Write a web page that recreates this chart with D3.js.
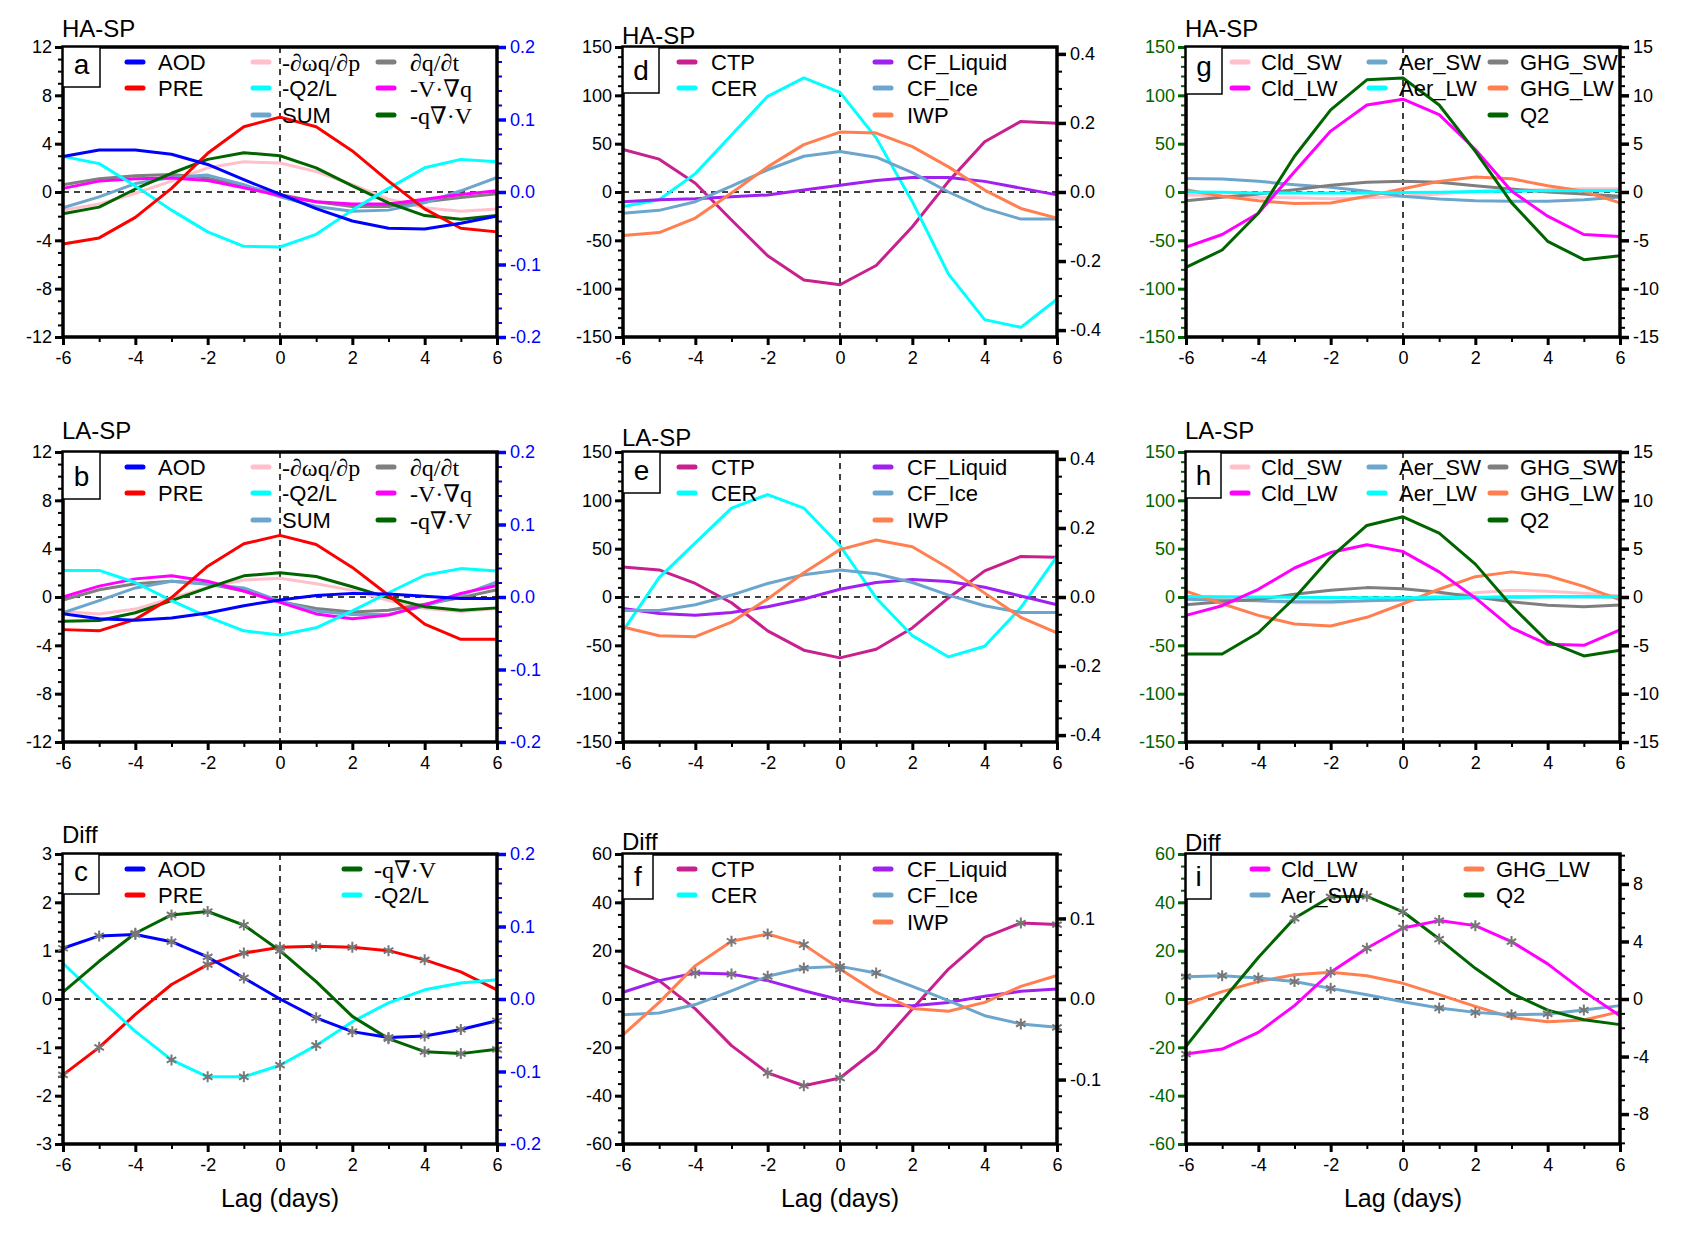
<!DOCTYPE html>
<html>
<head>
<meta charset="utf-8">
<script src="https://cdn.jsdelivr.net/npm/d3@7"></script>
<style>
  body { margin: 0; background: #fff; }
</style>
</head>
<body>
<div id="chart"></div>
<script>
// lag axis
const lags = [-6, -5, -4, -3, -2, -1, 0, 1, 2, 3, 4, 5, 6];
const lagTicks = [-6, -4, -2, 0, 2, 4, 6];

// tick labels
const budgetTicks = [-12, -8, -4, 0, 4, 8, 12];
const aodTicks = [-0.2, -0.1, 0, 0.1, 0.2];
const budgetDiffTicks = [-3, -2, -1, 0, 1, 2, 3];
const cloudTicks = [-150, -100, -50, 0, 50, 100, 150];
const cloudRTicks = [-0.4, -0.2, 0, 0.2, 0.4];
const cloudDiffTicks = [-60, -40, -20, 0, 20, 40, 60];
const cloudDiffRTicks = [-0.1, 0, 0.1];
const radRTicks = [-15, -10, -5, 0, 5, 10, 15];
const radDiffRTicks = [-8, -4, 0, 4, 8];

// a: HA-SP moisture budget (AOD on right axis)
const aAOD = [0.049, 0.058, 0.058, 0.052, 0.038, 0.017, -0.003, -0.023, -0.040, -0.050, -0.051, -0.043, -0.033];
const aPRE = [-4.3, -3.8, -2.1, 0.3, 3.2, 5.4, 6.2, 5.4, 3.4, 0.9, -1.4, -3.0, -3.3];
const aOmega = [-1.5, -1.0, -0.1, 0.9, 2.0, 2.5, 2.4, 1.7, 0.6, -0.6, -1.3, -1.6, -1.4];
const aQ2L = [2.95, 2.35, 0.5, -1.5, -3.3, -4.5, -4.55, -3.5, -1.5, 0.3, 2.0, 2.7, 2.5];
const aSUM = [-1.3, -0.4, 0.7, 1.2, 1.4, 0.6, -0.4, -1.2, -1.6, -1.5, -0.9, 0.1, 1.2];
const aDqdt = [0.6, 1.1, 1.35, 1.45, 1.15, 0.5, -0.2, -0.8, -1.2, -1.2, -0.8, -0.45, -0.15];
const aAdv = [0.3, 0.9, 1.1, 1.15, 0.95, 0.35, -0.3, -0.8, -1.0, -1.0, -0.6, -0.2, 0.1];
const aConv = [-1.8, -1.25, 0.25, 1.55, 2.7, 3.25, 3.0, 2.0, 0.5, -0.9, -1.95, -2.25, -1.95];

// b: LA-SP moisture budget
const bAOD = [-0.023, -0.030, -0.032, -0.029, -0.022, -0.012, -0.004, 0.002, 0.005, 0.004, 0.001, -0.002, -0.002];
const bPRE = [-2.7, -2.8, -1.85, -0.05, 2.55, 4.4, 5.1, 4.35, 2.45, 0.15, -2.25, -3.5, -3.5];
const bOmega = [-1.2, -1.4, -1.0, -0.1, 0.8, 1.4, 1.55, 1.1, 0.55, -0.3, -0.95, -1.2, -0.95];
const bQ2L = [2.2, 2.2, 1.2, -0.3, -1.65, -2.8, -3.15, -2.55, -1.15, 0.35, 1.8, 2.35, 2.15];
const bSUM = [-1.3, -0.3, 0.75, 1.3, 1.05, 0.75, -0.35, -1.15, -1.45, -1.45, -0.75, 0.15, 1.25];
const bDqdt = [-0.25, 0.6, 1.1, 1.3, 1.1, 0.5, -0.4, -0.95, -1.25, -1.1, -0.6, -0.05, 0.6];
const bAdv = [0, 0.9, 1.5, 1.75, 1.3, 0.5, -0.45, -1.4, -1.8, -1.5, -0.65, 0.3, 0.95];
const bConv = [-2.0, -1.95, -1.3, -0.3, 0.75, 1.75, 2.0, 1.7, 0.85, -0.05, -0.8, -1.1, -0.9];

// c: difference, stars = significant lags
const cAOD = [0.070, 0.087, 0.089, 0.079, 0.058, 0.029, 0, -0.026, -0.045, -0.053, -0.051, -0.042, -0.030];
const cPRE = [-1.57, -1.0, -0.32, 0.3, 0.71, 0.95, 1.07, 1.09, 1.07, 1.0, 0.81, 0.56, 0.19];
const cConv = [0.14, 0.78, 1.36, 1.74, 1.81, 1.53, 1.0, 0.36, -0.36, -0.82, -1.09, -1.13, -1.04];
const cQ2L = [0.74, 0.02, -0.67, -1.26, -1.61, -1.61, -1.37, -0.96, -0.47, -0.08, 0.19, 0.33, 0.40];
const cAODsig = [-6, -5, -4, -3, -2, -1, 1, 2, 3, 4, 5, 6];
const cPREsig = [-6, -5, -2, -1, 0, 1, 2, 3, 4];
const cConvSig = [-4, -3, -2, -1, 0, 3, 4, 5, 6];
const cQ2Lsig = [-3, -2, -1, 0, 1];

// d: HA-SP cloud properties
const dCTP = [44, 34, 9, -29, -66, -91, -96, -76, -36, 11, 52, 73, 71];
const dCER = [-15, -8, 19, 59, 99, 118, 103, 56, -10, -85, -132, -140, -111];
const dLiq = [-10, -8, -7, -5, -3, 2, 7, 12, 15, 15, 11, 4, -3];
const dIce = [-22, -19, -10, 6, 23, 37, 42, 36, 20, 0, -17, -28, -28];
const dIWP = [-45, -42, -27, -1, 26, 49, 62, 61, 47, 26, 2, -17, -27];

// e: LA-SP cloud properties
const eCTP = [31, 28, 14, -6, -35, -55, -63, -54, -32, -1, 27, 42, 41];
const eCER = [-35, 20, 56, 92, 106, 92, 53, -1, -40, -62, -51, -11, 42];
const eLiq = [-12, -17, -19, -16, -10, -2, 8, 15, 18, 16, 10, 1, -8];
const eIce = [-14, -14, -8, 2, 14, 23, 28, 24, 15, 2, -9, -16, -16];
const eIWP = [-31, -40, -41, -26, -2, 25, 49, 59, 52, 30, 4, -21, -37];

// f: difference
const fCTP = [14, 7.6, -4.1, -19.3, -30.6, -35.9, -32.7, -21, -4.1, 12.4, 25.5, 31.4, 30.8];
const fLiq = [2.8, 7.6, 10.8, 10.3, 7.6, 3.4, -0.3, -2.5, -2.8, -1.4, 1.1, 3.2, 4.1];
const fIce = [-6.5, -5.8, -2.3, 3.4, 9.4, 12.8, 13.5, 10.8, 5.2, -0.7, -6.9, -10.3, -11.7];
const fIWP = [-14.8, -1.4, 13.8, 23.9, 26.9, 22.5, 12.4, 2.8, -3.9, -5.1, -1.4, 5.2, 9.7];
const fCTPsig = [-2, -1, 0, 5, 6];
const fLiqSig = [-4, -3];
const fIceSig = [-2, -1, 0, 1, 5, 6];
const fIWPsig = [-3, -2, -1, 0];

// g: HA-SP radiative heating (Q2 on left axis, the rest on right axis)
const gCldSW = [-0.3, -0.4, -0.55, -0.6, -0.7, -0.6, -0.45, -0.2, 0.07, 0.17, 0.24, 0.34, 0.34];
const gCldLW = [-5.7, -4.4, -2.2, 2.1, 6.3, 9.0, 9.6, 8.0, 4.4, 0.1, -2.5, -4.4, -4.6];
const gAerSW = [1.4, 1.34, 1.1, 0.76, 0.48, 0.07, -0.45, -0.72, -0.9, -0.96, -0.96, -0.8, -0.52];
const gAerLW = [0, -0.02, -0.1, -0.1, -0.1, -0.1, -0.05, -0.03, 0.05, 0.08, 0.12, 0.14, 0.14];
const gGhgSW = [-0.9, -0.55, -0.2, 0.24, 0.69, 1.0, 1.1, 1.0, 0.65, 0.31, 0, -0.2, -0.45];
const gGhgLW = [0.24, -0.45, -0.9, -1.2, -1.13, -0.45, 0.34, 1.1, 1.55, 1.37, 0.65, 0.07, -1.13];
const gQ2 = [-78, -60, -22, 37, 85, 116, 118, 90, 42, -11, -51, -70, -66];

// h: LA-SP radiative heating
const hCldSW = [-0.07, -0.24, -0.4, -0.6, -0.6, -0.4, -0.24, 0.1, 0.45, 0.7, 0.6, 0.4, 0.1];
const hCldLW = [-1.9, -0.9, 0.8, 3.0, 4.6, 5.4, 4.7, 2.6, -0.1, -3.2, -4.9, -5.0, -3.4];
const hAerSW = [-0.24, -0.34, -0.4, -0.48, -0.5, -0.4, -0.3, -0.17, -0.07, 0, 0.03, 0.03, 0];
const hAerLW = [0.05, 0.02, 0, -0.03, -0.05, -0.07, -0.08, -0.05, -0.02, 0, 0.02, 0.03, 0.02];
const hGhgSW = [-0.8, -0.5, -0.24, 0.28, 0.7, 0.97, 0.86, 0.5, 0, -0.5, -0.86, -1.0, -0.83];
const hGhgLW = [0.6, -0.7, -1.9, -2.8, -3.0, -2.1, -0.7, 0.8, 2.1, 2.6, 2.2, 1.1, -0.3];
const hQ2 = [-59, -59, -37, -1, 41, 74, 83, 66, 34, -9, -46, -61, -55];

// i: difference
const iCldLW = [-3.83, -3.48, -2.32, -0.46, 1.86, 3.53, 4.94, 5.45, 5.1, 3.99, 2.44, 0.53, -1.16];
const iAerSW = [1.55, 1.62, 1.46, 1.21, 0.74, 0.3, -0.19, -0.63, -0.93, -1.09, -1.04, -0.77, -0.46];
const iGhgLW = [-0.35, 0.51, 1.21, 1.69, 1.86, 1.62, 1.09, 0.3, -0.51, -1.28, -1.58, -1.46, -0.88];
const iQ2 = [-19.6, -0.7, 17.2, 33.4, 42.3, 42.5, 36.1, 24.8, 12.7, 2.3, -4.6, -8.6, -10.6];
const iCldLWsig = [-6, -2, -1, 0, 1, 2, 3];
const iAerSWsig = [-6, -5, -4, -3, -2, 1, 2, 3, 4, 5];
const iQ2sig = [-3, -2, -1, 0, 1];

// colours
const C = {
    blue: "#0000ff", red: "#ff0000", pink: "#ffc0cb", cyan: "#00ffff",
    steel: "#6ca6cd", gray: "#7f7f7f", magenta: "#ff00ff", dgreen: "#006400",
    ctp: "#c8208e", purple: "#a020f0", coral: "#ff7f50"
};

const SANS = "'Liberation Sans', Arial, Helvetica, sans-serif";
const SERIF = "'Liberation Serif', 'DejaVu Serif', 'Times New Roman', serif";

// layout
const W = 434, H = 290;
const colX = [63, 623, 1186];
const rowY = [47, 452, 854];

// legend column offsets: [line start, text start]
const legA = [[64, 95], [190, 219], [315, 347]];
const legC = [[64, 95], [281, 311]];
const legD = [[56, 88], [252, 284]];
const legG = [[46, 75], [183, 213], [304, 334]];
const legI = [[66, 95], [280, 310]];
const legRows = [15, 41, 68];

function budgetSeries(AOD, PRE, Om, Q2L, SUM, Dqdt, Adv, Conv) {
    return [
        { name: "-\u2202\u03C9q/\u2202p", color: C.pink, vals: Om, c: 1, r: 0, serif: true },
        { name: "\u2202q/\u2202t", color: C.gray, vals: Dqdt, c: 2, r: 0, serif: true },
        { name: "SUM", color: C.steel, vals: SUM, c: 1, r: 2 },
        { name: "-V\u00B7\u2207q", color: C.magenta, vals: Adv, c: 2, r: 1, serif: true },
        { name: "-q\u2207\u00B7V", color: C.dgreen, vals: Conv, c: 2, r: 2, serif: true },
        { name: "-Q2/L", color: C.cyan, vals: Q2L, c: 1, r: 1 },
        { name: "PRE", color: C.red, vals: PRE, c: 0, r: 1 },
        { name: "AOD", color: C.blue, vals: AOD, c: 0, r: 0, axis: "R" }
    ];
}
function cloudSeries(CTP, CER, Liq, Ice, IWP, sig) {
    sig = sig || {};
    return [
        { name: "CTP", color: C.ctp, vals: CTP, c: 0, r: 0, sig: sig.ctp },
        { name: "CER", color: C.cyan, vals: CER, c: 0, r: 1 },
        { name: "CF_Liquid", color: C.purple, vals: Liq, c: 1, r: 0, sig: sig.liq },
        { name: "CF_Ice", color: C.steel, vals: Ice, c: 1, r: 1, sig: sig.ice },
        { name: "IWP", color: C.coral, vals: IWP, c: 1, r: 2, sig: sig.iwp }
    ];
}
function radSeries(CldSW, CldLW, AerSW, AerLW, GhgSW, GhgLW, Q2) {
    return [
        { name: "Cld_SW", color: C.pink, vals: CldSW, c: 0, r: 0, axis: "R" },
        { name: "Aer_SW", color: C.steel, vals: AerSW, c: 1, r: 0, axis: "R" },
        { name: "GHG_SW", color: C.gray, vals: GhgSW, c: 2, r: 0, axis: "R" },
        { name: "GHG_LW", color: C.coral, vals: GhgLW, c: 2, r: 1, axis: "R" },
        { name: "Aer_LW", color: C.cyan, vals: AerLW, c: 1, r: 1, axis: "R" },
        { name: "Cld_LW", color: C.magenta, vals: CldLW, c: 0, r: 1, axis: "R" },
        { name: "Q2", color: C.dgreen, vals: Q2, c: 2, r: 2 }
    ];
}

const budgetAxes = { left: [-12, 12], lTicks: budgetTicks, lMinor: 1, right: [-0.2, 0.2], rTicks: aodTicks, rMinor: 0.02, rColor: C.blue, lColor: "#000", rDec: 1 };
const cloudAxes = { left: [-150, 150], lTicks: cloudTicks, lMinor: 10, right: [-0.42, 0.42], rTicks: cloudRTicks, rMinor: 0.05, rColor: "#000", lColor: "#000", rDec: 1 };
const radAxes = { left: [-150, 150], lTicks: cloudTicks, lMinor: 10, right: [-15, 15], rTicks: radRTicks, rMinor: 1, rColor: "#000", lColor: C.dgreen, rDec: 0 };

const panels = [
    Object.assign({ id: "a", title: "HA-SP", col: 0, row: 0, tDy: -10, box: [37, 40], leg: legA,
        series: budgetSeries(aAOD, aPRE, aOmega, aQ2L, aSUM, aDqdt, aAdv, aConv) }, budgetAxes),
    Object.assign({ id: "b", title: "LA-SP", col: 0, row: 1, tDy: -13, box: [37, 47], leg: legA,
        series: budgetSeries(bAOD, bPRE, bOmega, bQ2L, bSUM, bDqdt, bAdv, bConv) }, budgetAxes),
    Object.assign({}, budgetAxes, { id: "c", title: "Diff", col: 0, row: 2, tDy: -11, box: [36, 40], leg: legC,
        left: [-3, 3], lTicks: budgetDiffTicks, lMinor: 0.2,
        series: [
            { name: "PRE", color: C.red, vals: cPRE, c: 0, r: 1, sig: cPREsig },
            { name: "-Q2/L", color: C.cyan, vals: cQ2L, c: 1, r: 1, sig: cQ2Lsig },
            { name: "-q\u2207\u00B7V", color: C.dgreen, vals: cConv, c: 1, r: 0, serif: true, sig: cConvSig },
            { name: "AOD", color: C.blue, vals: cAOD, c: 0, r: 0, axis: "R", sig: cAODsig }
        ] }),
    Object.assign({ id: "d", title: "HA-SP", col: 1, row: 0, tDy: -3, box: [36, 46], leg: legD,
        series: cloudSeries(dCTP, dCER, dLiq, dIce, dIWP) }, cloudAxes),
    Object.assign({ id: "e", title: "LA-SP", col: 1, row: 1, tDy: -6, box: [37, 41], leg: legD,
        series: cloudSeries(eCTP, eCER, eLiq, eIce, eIWP) }, cloudAxes),
    Object.assign({}, cloudAxes, { id: "f", title: "Diff", col: 1, row: 2, tDy: -4, box: [30, 45], leg: legD,
        left: [-60, 60], lTicks: cloudDiffTicks, lMinor: 5, right: [-0.18, 0.18], rTicks: cloudDiffRTicks, rMinor: 0.02,
        series: cloudSeries(fCTP, null, fLiq, fIce, fIWP, { ctp: fCTPsig, liq: fLiqSig, ice: fIceSig, iwp: fIWPsig }) }),
    Object.assign({ id: "g", title: "HA-SP", col: 2, row: 0, tDy: -10, box: [36, 47], desc: true, leg: legG,
        series: radSeries(gCldSW, gCldLW, gAerSW, gAerLW, gGhgSW, gGhgLW, gQ2) }, radAxes),
    Object.assign({ id: "h", title: "LA-SP", col: 2, row: 1, tDy: -13, box: [35, 46], leg: legG,
        series: radSeries(hCldSW, hCldLW, hAerSW, hAerLW, hGhgSW, hGhgLW, hQ2) }, radAxes),
    Object.assign({}, radAxes, { id: "i", title: "Diff", col: 2, row: 2, tDy: -3, box: [25, 45], leg: legI,
        left: [-60, 60], lTicks: cloudDiffTicks, lMinor: 5, right: [-10.08, 10.08], rTicks: radDiffRTicks, rMinor: 1,
        series: [
            { name: "GHG_LW", color: C.coral, vals: iGhgLW, c: 1, r: 0, axis: "R" },
            { name: "Aer_SW", color: C.steel, vals: iAerSW, c: 0, r: 1, axis: "R", sig: iAerSWsig },
            { name: "Q2", color: C.dgreen, vals: iQ2, c: 1, r: 1, sig: iQ2sig },
            { name: "Cld_LW", color: C.magenta, vals: iCldLW, c: 0, r: 0, axis: "R", sig: iCldLWsig }
        ] })
];

const svg = d3.select("#chart").append("svg")
    .attr("width", 1689)
    .attr("height", 1234)
    .style("background", "#fff");

function minorTicks(domain, step) {
    const lo = Math.ceil(domain[0] / step - 1e-9), hi = Math.floor(domain[1] / step + 1e-9);
    return d3.range(lo, hi + 1).map(k => +(k * step).toFixed(6));
}
function fmt(dec) {
    return d => dec ? (+d).toFixed(dec) : String(Math.round(d));
}
function styleAxis(sel, color, width) {
    sel.attr("font-family", SANS).attr("font-size", 18);
    sel.select(".domain").remove();
    sel.selectAll(".tick line").attr("stroke", color).attr("stroke-width", width);
    sel.selectAll(".tick text").attr("fill", color);
}

// six-armed asterisk used to mark significant lags
const starPath = (() => {
    const r = 5.5, a = r * Math.cos(Math.PI / 6), b = r * Math.sin(Math.PI / 6);
    return `M0,${-r}L0,${r}M${-a},${-b}L${a},${b}M${-a},${b}L${a},${-b}`;
})();

function drawPanel(p) {
    const g = svg.append("g")
        .attr("transform", "translate(" + colX[p.col] + "," + rowY[p.row] + ")");

    const x = d3.scaleLinear().domain([-6, 6]).range([0, W]);
    const yL = d3.scaleLinear().domain(p.left).range([H, 0]);
    const yR = d3.scaleLinear().domain(p.right).range([H, 0]);

    // title
    g.append("text")
        .attr("x", -1).attr("y", p.tDy)
        .attr("font-family", SANS).attr("font-size", 24)
        .text(p.title);

    // left axis
    g.append("g")
        .call(d3.axisLeft(yL).tickValues(minorTicks(p.left, p.lMinor)).tickSize(5).tickFormat(""))
        .call(s => styleAxis(s, p.lColor, 2));
    g.append("g")
        .call(d3.axisLeft(yL).tickValues(p.lTicks).tickSize(8).tickPadding(3).tickFormat(fmt(0)))
        .call(s => styleAxis(s, p.lColor, 3));

    // right axis
    g.append("g")
        .attr("transform", "translate(" + W + ",0)")
        .call(d3.axisRight(yR).tickValues(minorTicks(p.right, p.rMinor)).tickSize(5).tickFormat(""))
        .call(s => styleAxis(s, p.rColor, 2));
    g.append("g")
        .attr("transform", "translate(" + W + ",0)")
        .call(d3.axisRight(yR).tickValues(p.rTicks).tickSize(9).tickPadding(4).tickFormat(fmt(p.rDec)))
        .call(s => styleAxis(s, p.rColor, 3.5));

    // bottom axis
    g.append("g")
        .attr("transform", "translate(0," + H + ")")
        .call(d3.axisBottom(x).tickValues(lags.filter(d => d % 2 !== 0)).tickSize(5).tickFormat(""))
        .call(s => styleAxis(s, "#000", 2));
    g.append("g")
        .attr("transform", "translate(0," + H + ")")
        .call(d3.axisBottom(x).tickValues(lagTicks).tickSize(8).tickPadding(6).tickFormat(fmt(0)))
        .call(s => styleAxis(s, "#000", 3));

    // zero reference lines
    g.append("line")
        .attr("x1", 0).attr("x2", W).attr("y1", yL(0)).attr("y2", yL(0))
        .attr("stroke", "#000").attr("stroke-width", 1.5).attr("stroke-dasharray", "6,5");
    g.append("line")
        .attr("x1", x(0)).attr("x2", x(0)).attr("y1", 0).attr("y2", H)
        .attr("stroke", "#000").attr("stroke-width", 1.5).attr("stroke-dasharray", "6,5");

    // series
    p.series.forEach(s => {
        if (!s.vals) return;
        const y = s.axis === "R" ? yR : yL;
        const pts = lags.map((l, i) => ({ lag: l, v: s.vals[i] }));
        g.append("path")
            .datum(pts)
            .attr("fill", "none")
            .attr("stroke", s.color)
            .attr("stroke-width", 3)
            .attr("stroke-linejoin", "round")
            .attr("d", d3.line()
                .x(d => x(d.lag))
                .y(d => y(d.v)));
    });

    // significance markers
    p.series.forEach(s => {
        if (!s.vals || !s.sig) return;
        const y = s.axis === "R" ? yR : yL;
        g.selectAll(null)
            .data(s.sig)
            .enter()
            .append("path")
            .attr("d", starPath)
            .attr("transform", d => "translate(" + x(d) + "," + y(s.vals[lags.indexOf(d)]) + ")")
            .attr("stroke", "#777")
            .attr("stroke-width", 2)
            .attr("fill", "none");
    });

    // frame
    g.append("rect")
        .attr("width", W).attr("height", H)
        .attr("fill", "none").attr("stroke", "#000").attr("stroke-width", 3.5);

    // panel letter box
    g.append("rect")
        .attr("width", p.box[0]).attr("height", p.box[1])
        .attr("fill", "#fff").attr("stroke", "#000").attr("stroke-width", 1.5);
    g.append("text")
        .attr("x", p.box[0] / 2)
        .attr("y", p.box[1] - 13 - (p.desc ? 5 : 0))
        .attr("text-anchor", "middle")
        .attr("font-family", SANS).attr("font-size", 28)
        .text(p.id);

    // legend
    p.series.forEach(s => {
        const col = p.leg[s.c], yy = legRows[s.r];
        g.append("line")
            .attr("x1", col[0]).attr("x2", col[0] + 16)
            .attr("y1", yy).attr("y2", yy)
            .attr("stroke", s.color).attr("stroke-width", 5).attr("stroke-linecap", "round");
        g.append("text")
            .attr("x", col[1]).attr("y", yy)
            .attr("dy", "0.36em")
            .attr("font-family", s.serif ? SERIF : SANS)
            .attr("font-size", s.serif ? 24 : 22)
            .text(s.name);
    });

    // x label on bottom row
    if (p.row === 2) {
        g.append("text")
            .attr("x", W / 2).attr("y", H + 63)
            .attr("text-anchor", "middle")
            .attr("font-family", SANS).attr("font-size", 25)
            .text("Lag (days)");
    }
}

panels.forEach(drawPanel);
</script>
</body>
</html>
